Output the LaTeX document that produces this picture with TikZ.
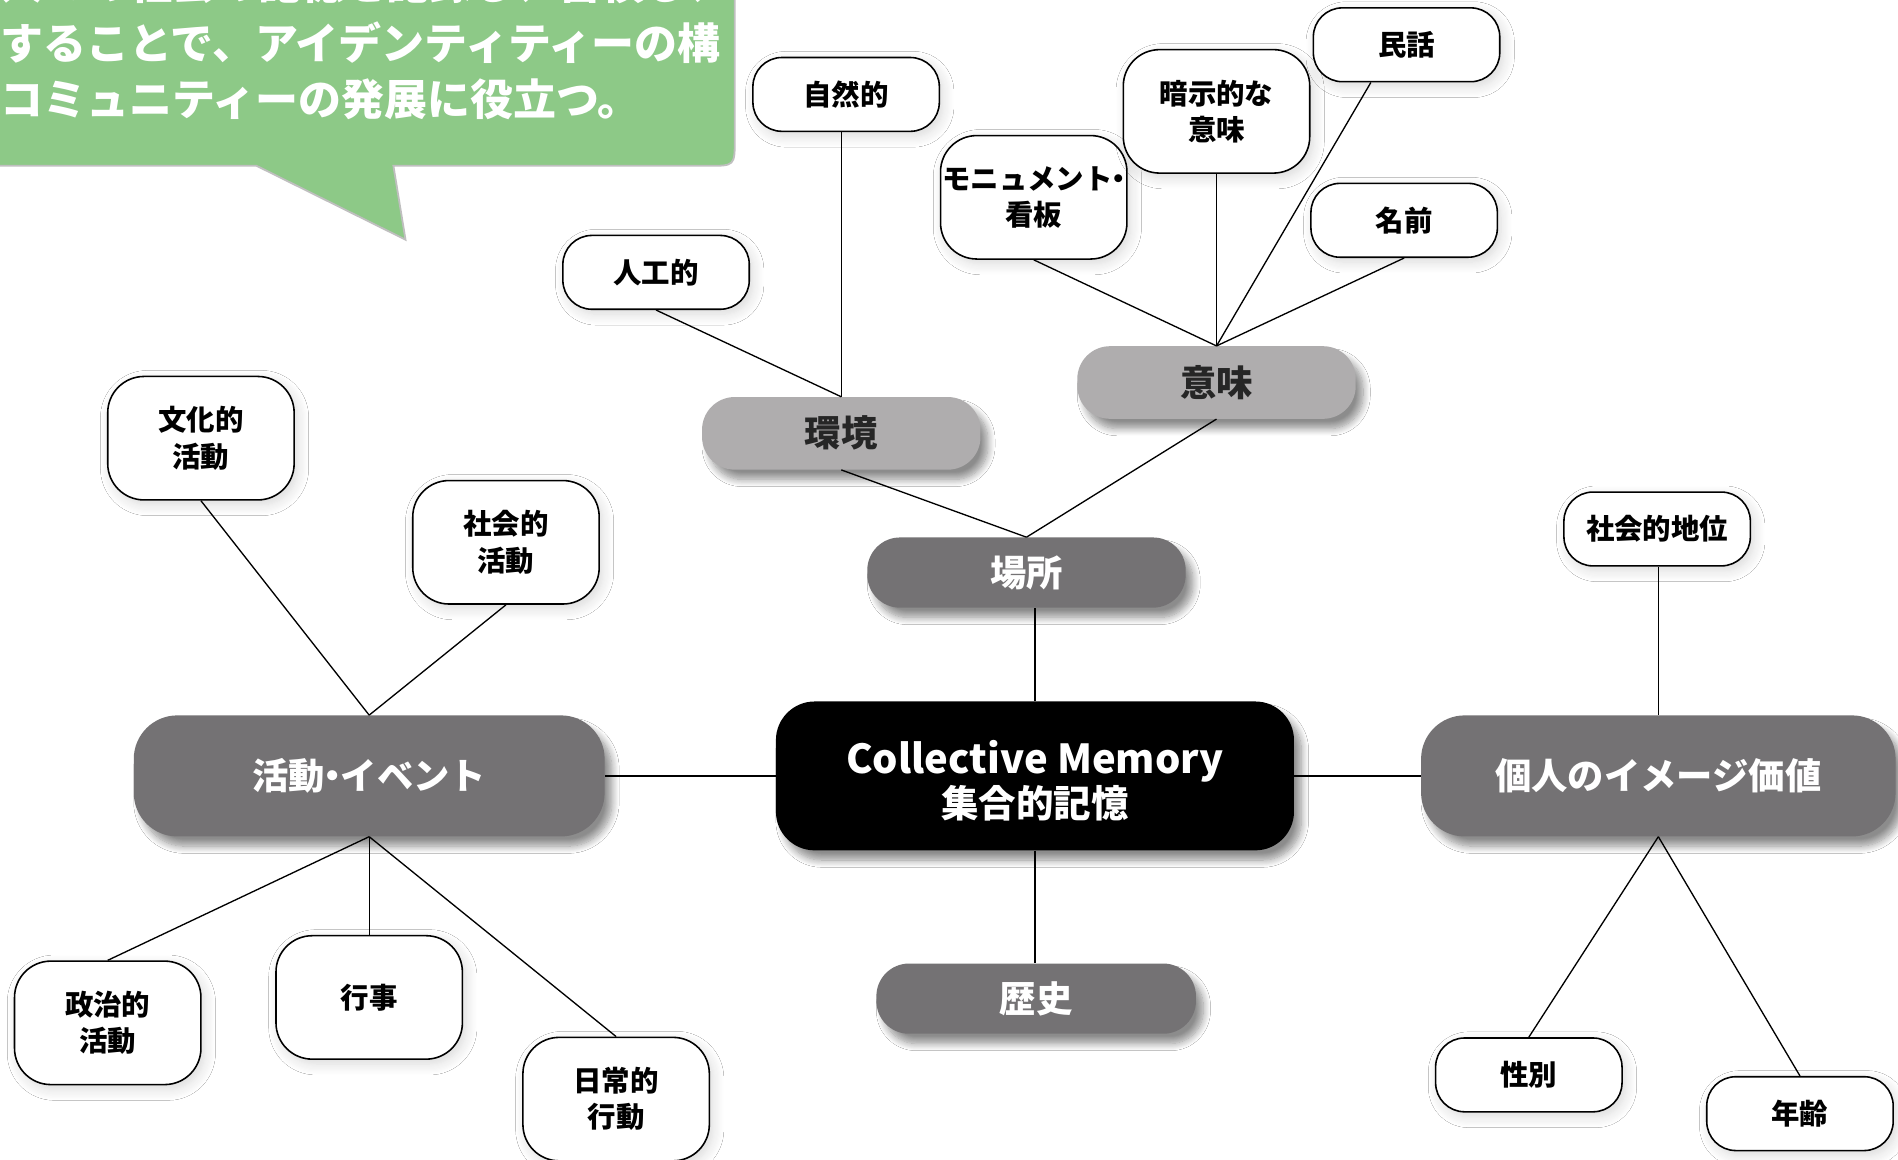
\documentclass[tikz,border=0pt]{standalone}
\usepackage{fontspec}
\setmainfont{Noto Sans CJK JP}
\usetikzlibrary{shadows.blur,calc}
\definecolor{dgray}{HTML}{747274}
\definecolor{lgray}{HTML}{AFADAE}
\definecolor{cgreen}{HTML}{8DC987}
\newcommand{\ndot}{\kern-.28em・\kern-.28em}
\begin{document}
\begin{tikzpicture}[x=1pt,y=-1pt,
  leaf/.style={draw=black, line width=1.3pt, fill=white, rounded corners=24pt,
    minimum width=154pt, minimum height=61pt, inner sep=0pt, align=center,
    font=\fontsize{23.5}{30}\selectfont\bfseries,
    blur shadow={shadow xshift=3pt, shadow yshift=-4pt, shadow opacity=15, shadow blur radius=9pt, shadow blur steps=10}},
  tall/.style={leaf, minimum height=102pt, rounded corners=30pt},
  dnode/.style={fill=dgray, text=white, rounded corners=27pt, inner sep=0pt, align=center,
    font=\fontsize{30}{34}\selectfont\bfseries,
    blur shadow={shadow xshift=6pt, shadow yshift=-8pt, shadow opacity=45, shadow blur radius=6pt, shadow blur steps=10}},
  lnode/.style={dnode, fill=lgray, text=black!85},
  link/.style={line width=1.1pt, black},
  calltext/.style={anchor=west, inner sep=0pt, text=white, font=\fontsize{35.5}{40}\selectfont\bfseries}]

\clip (0,0) rectangle (1568,958);
\fill[white] (0,0) rectangle (1568,958);

% callout
\draw[fill=cgreen, draw=black!25, line width=1.5pt]
  (-20,-20) -- (607,-20) -- (607,115) .. controls (607,137) .. (585,137)
  -- (325,137) -- (335,198) -- (212,137) -- (-20,137) -- cycle;
\node[calltext] (c1) at (0,-14) {人々の社会の記憶を記録し、蓄積し、};
\node[calltext] (c2) at (0,35) {することで、アイデンティティーの構};
\node[calltext] (c3) at (0,82) {コミュニティーの発展に役立つ。};

% center
\node[fill=black, rounded corners=32pt, minimum width=428pt, minimum height=123pt,
  inner sep=0pt,
  blur shadow={shadow xshift=6pt, shadow yshift=-8pt, shadow opacity=45, shadow blur radius=6pt, shadow blur steps=10}]
  (cm) at (855,641) {};
\node[text=white, align=center, inner sep=0pt] (cmtext) at ($(cm.center)+(0,4)$)
  {\fontsize{33}{38}\selectfont\bfseries Collective Memory\\[2pt]\fontsize{31}{36}\selectfont\bfseries 集合的記憶};

% main branches
\node[dnode, minimum width=263pt, minimum height=58pt] (basho) at (848,473) {場所};
\node[dnode, minimum width=264pt, minimum height=58pt] (rekishi) at (856,825) {歴史};
\node[dnode, minimum width=389pt, minimum height=100pt, rounded corners=36pt] (katsudo) at (305,641) {活動\ndot イベント};
\node[dnode, minimum width=392pt, minimum height=100pt, rounded corners=36pt] (kojin) at (1370,641) {個人のイメージ価値};

\node[lnode, minimum width=230pt, minimum height=60pt] (kankyo) at (695,358) {環境};
\node[lnode, minimum width=230pt, minimum height=60pt] (imi) at (1005,316) {意味};

% leaves
\node[leaf] (shizen) at (699,78) {自然的};
\node[leaf] (jinko) at (542,225) {人工的};
\node[tall] (monu) at (854,163) {モニュメント\ndot\\看板};
\node[tall] (anji) at (1005,92) {暗示的な\\意味};
\node[leaf] (minwa) at (1162,37) {民話};
\node[leaf] (namae) at (1160,182) {名前};
\node[tall] (bunka) at (166,362) {文化的\\活動};
\node[tall] (shakai) at (418,448) {社会的\\活動};
\node[leaf] (chii) at (1369,437) {社会的地位};
\node[tall] (seiji) at (89,845) {政治的\\活動};
\node[tall] (gyoji) at (305,824) {行事};
\node[tall] (nichijo) at (509,908) {日常的\\行動};
\node[leaf] (seibetsu) at (1263,888) {性別};
\node[leaf] (nenrei) at (1487,920) {年齢};

% connectors
\draw[link] (cm.north) -- (cm.north |- basho.south);
\draw[link] (cm.south) -- (cm.south |- rekishi.north);
\draw[link] (cm.west) -- (katsudo.east);
\draw[link] (cm.east) -- (kojin.west);

\draw[link] (basho.north) -- (kankyo.south);
\draw[link] (basho.north) -- (imi.south);

\draw[link] (kankyo.north) -- (jinko.south);
\draw[link] (kankyo.north) -- (kankyo.north |- shizen.south);

\draw[link] (imi.north) -- (monu.south);
\draw[link] (imi.north) -- (anji.south);
\draw[link] (imi.north) -- ($(minwa.south west)!0.31!(minwa.south east)$);
\draw[link] (imi.north) -- (namae.south);

\draw[link] (katsudo.north) -- (bunka.south);
\draw[link] (katsudo.north) -- (shakai.south);
\draw[link] (katsudo.south) -- (seiji.north);
\draw[link] (katsudo.south) -- (gyoji.north);
\draw[link] (katsudo.south) -- (nichijo.north);

\draw[link] (kojin.north) -- (kojin.north |- chii.south);
\draw[link] (kojin.south) -- (seibetsu.north);
\draw[link] (kojin.south) -- (nenrei.north);
\end{tikzpicture}
\end{document}
